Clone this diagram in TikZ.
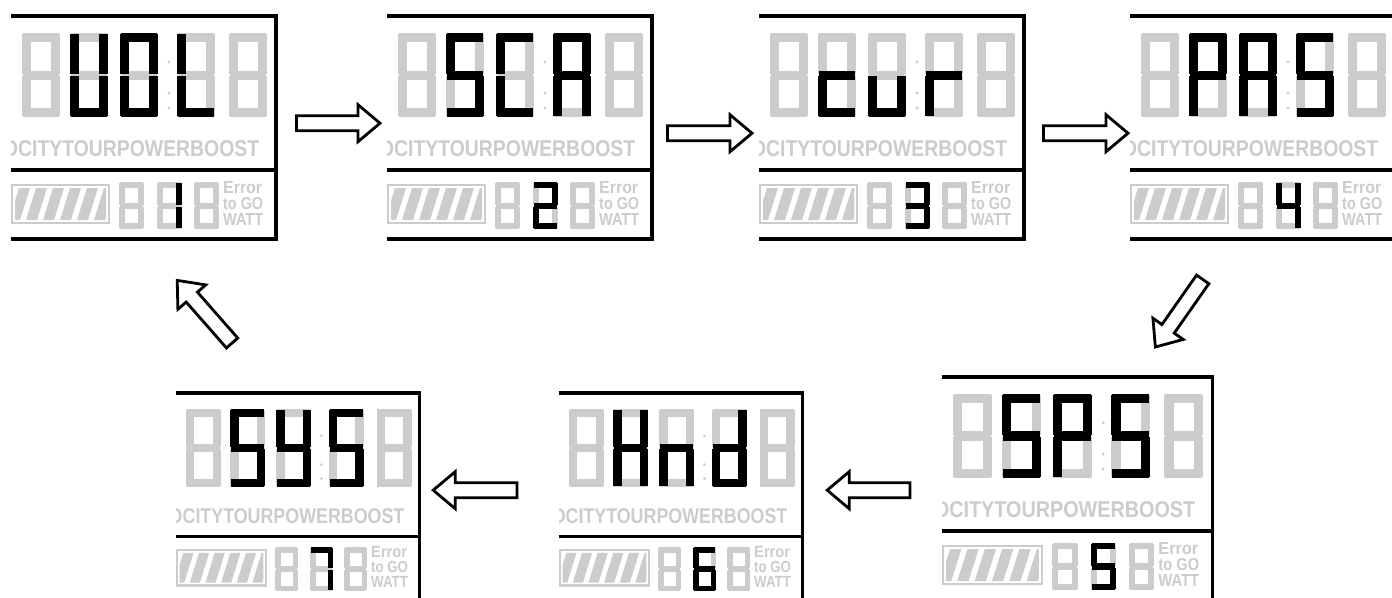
\documentclass[tikz,border=0pt]{standalone}
\usepackage{fontspec}
\setmainfont{Liberation Sans}
\usetikzlibrary{calc}

\definecolor{lcdgray}{gray}{0.8}
\newcommand\digw{38}
\newcommand\digh{84}
\newcommand\digt{9}
\newcommand\pscale{1}

\tikzset{
  seg a/.style={insert path={(1,{\digt/2}) -- ({\digw-1},{\digt/2})}},
  seg g/.style={insert path={(1,{\digh/2}) -- ({\digw-1},{\digh/2})}},
  seg d/.style={insert path={(1,{\digh-\digt/2}) -- ({\digw-1},{\digh-\digt/2})}},
  seg f/.style={insert path={({\digt/2},1) -- ({\digt/2},{\digh/2-1})}},
  seg b/.style={insert path={({\digw-\digt/2},1) -- ({\digw-\digt/2},{\digh/2-1})}},
  seg e/.style={insert path={({\digt/2},{\digh/2+1}) -- ({\digt/2},{\digh-1})}},
  seg c/.style={insert path={({\digw-\digt/2},{\digh/2+1}) -- ({\digw-\digt/2},{\digh-1})}},
  segoff/.style={draw=lcdgray, line width=\digt*\pscale*1pt},
  segon/.style={draw=black, line width=\digt*\pscale*1pt},
  frame/.style={line width=3.2pt},
  lcdtext/.style={text=lcdgray, inner sep=0pt, transform shape, font=\bfseries},
  panelbox/.style={inner sep=0pt, anchor=north west},
  blockarr/.style={draw, line width=2.8pt, fill=white, line join=miter,
    to path={let \p1=(\tikztostart), \p2=(\tikztotarget),
      \n1={atan2(\y2-\y1,\x2-\x1)}, \n2={veclen(\x2-\x1,\y2-\y1)} in
      ($(\p1)+(\n1+90:7.5pt)$) -- ($(\p1)+(\n1:\n2-22pt)+(\n1+90:7.5pt)$)
      -- ($(\p1)+(\n1:\n2-22pt)+(\n1+90:18.5pt)$) -- (\p2)
      -- ($(\p1)+(\n1:\n2-22pt)+(\n1-90:18.5pt)$) -- ($(\p1)+(\n1:\n2-22pt)+(\n1-90:7.5pt)$)
      -- ($(\p1)+(\n1-90:7.5pt)$) -- cycle}}
}

\newcommand\bigdigit[3]{%
  \begin{scope}[shift={(#1,17)}]
    \def\digw{38}\def\digh{84}\def\digt{9}
    \foreach \s in {#2} {\draw[#3, seg \s];}
  \end{scope}}

\newcommand\smalldigit[3]{%
  \begin{scope}[shift={(#1,166)}]
    \def\digw{25}\def\digh{47}\def\digt{6}
    \foreach \s in {#2} {\draw[#3, seg \s];}
  \end{scope}}

\newcommand\lcdpanel[9]{%
  \node[panelbox, minimum width=#4*265pt, minimum height=#5*223pt] (#1) at (#2,#3) {};
  \begin{scope}[shift={(#2,#3)}, xscale=#4, yscale=#5]
    \def\pscale{#4}
    \clip (0,-3) rectangle (270,226);
    \foreach \px in {11,59,109,166,218} {\bigdigit{\px}{a,b,c,d,e,f,g}{segoff}}
    \fill[lcdgray] (158,46) circle (1.6) (158,77) circle (1.6) (158,92) circle (1.6);
    \bigdigit{59}{#6}{segon}
    \bigdigit{109}{#7}{segon}
    \bigdigit{166}{#8}{segon}
    \node[lcdtext, anchor=base west] at (-7,140) {\resizebox{255pt}{16pt}{DCITYTOURPOWERBOOST}};
    \draw[lcdgray, line width=2.6pt] (1,169) rectangle (98,207);
    \begin{scope}
      \clip (4,172) rectangle (95,204);
      \foreach \i in {0,...,5} {\fill[lcdgray] ({-2+17*\i},204) -- ({9+17*\i},204) -- ({19+17*\i},172) -- ({8+17*\i},172) -- cycle;}
    \end{scope}
    \foreach \px in {108,146,183} {\smalldigit{\px}{a,b,c,d,e,f,g}{segoff}}
    \smalldigit{146}{#9}{segon}
    \foreach \t/\w/\yb in {Error/39/177, to GO/40/193, WATT/40/209}
      {\node[lcdtext, anchor=base west] at (212,\yb) {\resizebox{\w pt}{12pt}{\t}};}
    \draw[frame] (0,0) -- (265,0) -- (265,223) -- (0,223);
    \draw[frame] (0,154) -- (265,154);
  \end{scope}}

\begin{document}
\begin{tikzpicture}[x=1pt,y=-1pt]
\path[use as bounding box, fill=white] (0,0) rectangle (1392,597);

\lcdpanel{vol}{11}{16}{1}{1}{b,c,d,e,f}{a,b,c,d,e,f}{d,e,f}{b,c}
\lcdpanel{sca}{387}{16}{1}{1}{a,c,d,f,g}{a,d,e,f}{a,b,c,e,f,g}{a,b,d,e,g}
\lcdpanel{cur}{759}{16}{1}{1}{d,e,g}{c,d,e}{e,g}{a,b,c,d,g}
\lcdpanel{pas}{1130}{16}{1}{1}{a,b,e,f,g}{a,b,c,e,f,g}{a,c,d,f,g}{b,c,f,g}
\lcdpanel{sps}{942}{377}{1.02}{1}{a,c,d,f,g}{a,b,e,f,g}{a,c,d,f,g}{a,c,d,f,g}
\lcdpanel{hnd}{559}{393}{0.92}{0.93}{b,c,e,f,g}{c,e,g}{b,c,d,e,g}{a,c,d,e,f,g}
\lcdpanel{sys}{176}{393}{0.92}{0.93}{a,c,d,f,g}{b,c,d,f,g}{a,c,d,f,g}{a,b,c}

\draw[blockarr] ([shift={(20,-4.5)}]vol.east) to ([shift={(-7,-4.5)}]sca.west);
\draw[blockarr] ([shift={(15,5.5)}]sca.east) to ([shift={(-7,5.5)}]cur.west);
\draw[blockarr] ([shift={(19,5.5)}]cur.east) to ([shift={(-2,5.5)}]pas.west);
\draw[blockarr] ([shift={(-60,40)}]pas.south) to ([shift={(78,-30)}]sps.north);
\draw[blockarr] ([shift={(-32,1.5)}]sps.west) to ([shift={(24,-6.7)}]hnd.east);
\draw[blockarr] ([shift={(-42,-6.7)}]hnd.west) to ([shift={(13,-6.7)}]sys.east);
\draw[blockarr] ([shift={(-66,-50)}]sys.north) to ([shift={(33.5,41)}]vol.south);
\end{tikzpicture}
\end{document}
